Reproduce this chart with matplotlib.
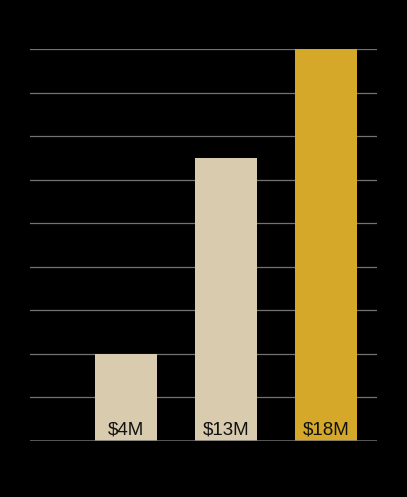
import matplotlib
matplotlib.use("Agg")
import matplotlib.pyplot as plt

categories = ["A", "B", "C"]
values = [4, 13, 18]
labels = ["$4M", "$13M", "$18M"]
colors = ["#d9cbae", "#d9cbae", "#d5a82a"]

fig = plt.figure(figsize=(4.07, 4.97), dpi=100, facecolor="black")
ax = fig.add_axes([30 / 407, 56 / 497, 347 / 407, 392 / 497], facecolor="black")

x = range(len(categories))
ax.bar(x, values, width=0.62, color=colors, zorder=3)
for xi, lab in zip(x, labels):
    ax.text(xi, 0.1, lab, ha="center", va="bottom", fontsize=13.5,
            family="Liberation Sans", color="#111111", zorder=4)

ax.set_xlim(-0.96, 2.51)
ax.set_ylim(0, 18)
ax.set_yticks(range(0, 19, 2))
ax.yaxis.grid(True, color="#727272", linewidth=0.9, zorder=0)
ax.tick_params(left=False, bottom=False, labelleft=False, labelbottom=False)
for s in ax.spines.values():
    s.set_visible(False)
ax.axhline(0, color="#6f6f6f", linewidth=1.8, zorder=5)

fig.savefig("out.png", dpi=100, facecolor="black")
